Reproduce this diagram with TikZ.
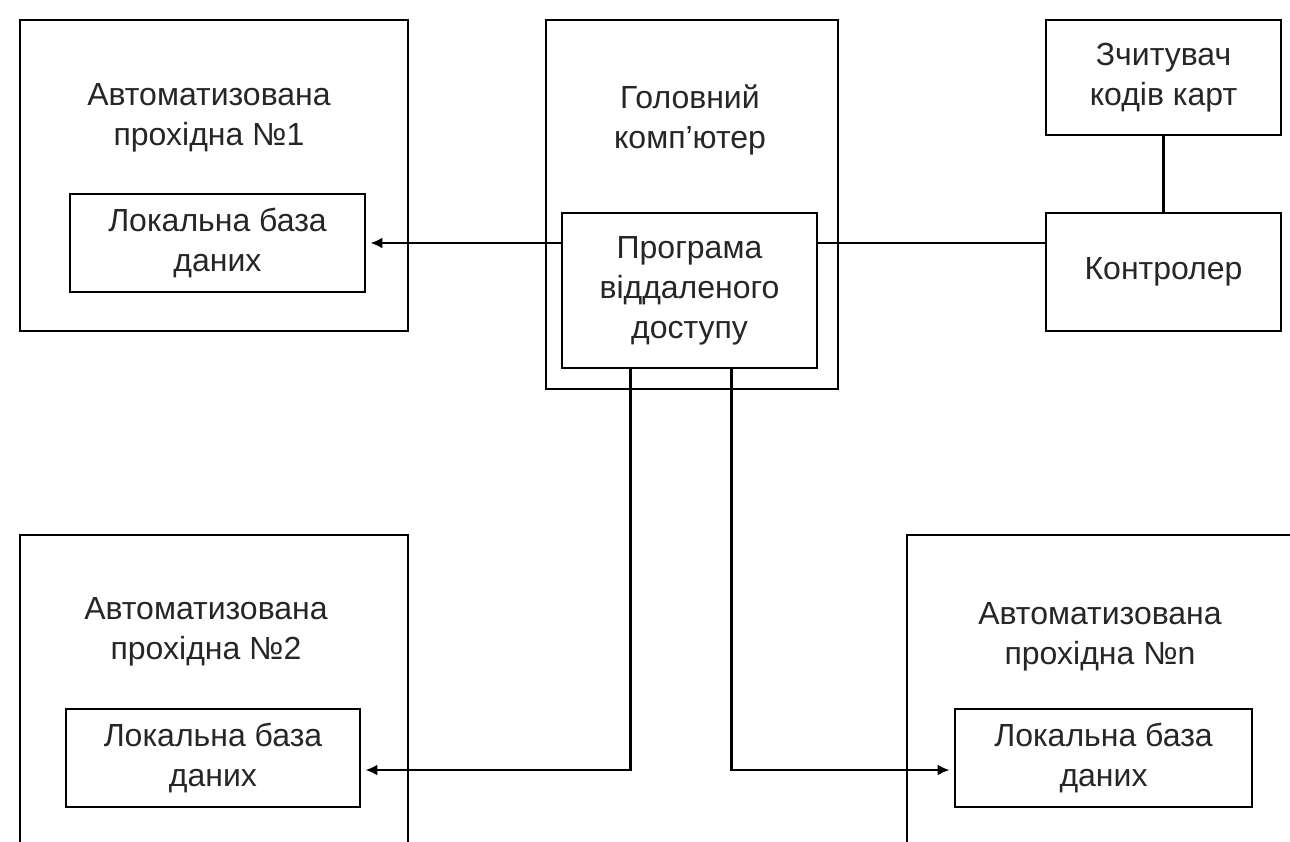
\documentclass[tikz,border=0pt]{standalone}
\usepackage{fontspec}
\setmainfont{Liberation Sans}
\usetikzlibrary{arrows.meta,calc}
\begin{document}
\begin{tikzpicture}[x=1pt,y=-1pt,
  box/.style={draw=black,line width=2.8pt,rectangle,inner sep=0pt},
  lbl/.style={align=center,font=\fontsize{32}{40}\selectfont,text=black!85},
  conn/.style={line width=2.8pt},
  arr/.style={line width=2.8pt,-{Latex[length=12pt,width=11pt]},shorten >=4pt}]
\useasboundingbox (0,0) rectangle (1290,841);
\clip (0,0) rectangle (1290,841);
% boxes
\node[box,minimum width=388pt,minimum height=311pt] (a1) at (214,175.5) {};
\node[lbl] (a1t) at (209,118) {Автоматизована\\прохідна №1};
\node[box,lbl,minimum width=295pt,minimum height=98pt] (db1) at (217.5,243) {Локальна база\\даних};
\node[box,minimum width=292pt,minimum height=369pt] (main) at (692,204.5) {};
\node[lbl] (maint) at (690,120) {Головний\\комп'ютер};
\node[box,lbl,minimum width=255pt,minimum height=155pt] (prog) at (689.5,290.5) {Програма\\віддаленого\\доступу};
\node[box,lbl,minimum width=235pt,minimum height=115pt] (reader) at (1163.5,77.5) {Зчитувач\\кодів карт};
\node[box,lbl,minimum width=235pt,minimum height=118pt] (ctrl) at (1163.5,272) {Контролер};
\node[box,minimum width=388pt,minimum height=345pt] (a2) at (214,707.5) {};
\node[lbl] (a2t) at (206,632) {Автоматизована\\прохідна №2};
\node[box,lbl,minimum width=294pt,minimum height=98pt] (db2) at (213,758) {Локальна база\\даних};
\node[box,minimum width=433pt,minimum height=345pt] (an) at (1123.5,707.5) {};
\node[lbl] (ant) at (1100,637) {Автоматизована\\прохідна №n};
\node[box,lbl,minimum width=297pt,minimum height=98pt] (dbn) at (1103.5,758) {Локальна база\\даних};
% connectors
\draw[arr] (prog.west |- db1.east) -- (db1.east);
\draw[conn] (prog.east |- db1.east) -- (ctrl.west |- db1.east);
\draw[conn] (reader.south) -- (ctrl.north);
\draw[arr] ([xshift=70pt]prog.south west) |- ([yshift=-12pt]db2.east);
\draw[arr] ([xshift=-87pt]prog.south east) |- ([yshift=-12pt]dbn.west);
\end{tikzpicture}
\end{document}
